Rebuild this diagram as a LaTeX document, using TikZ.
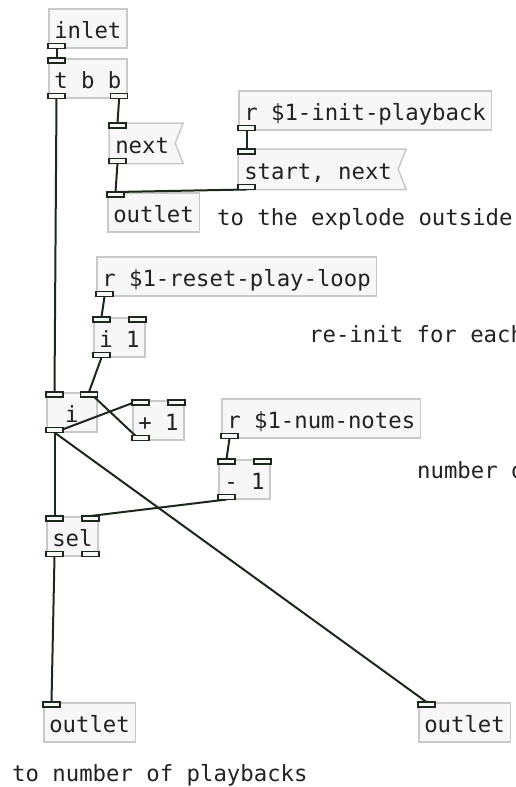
\documentclass[tikz,border=0pt]{standalone}
\usepackage{fontspec}
\setmonofont{DejaVu Sans Mono}
\usetikzlibrary{backgrounds}
\definecolor{pdfill}{RGB}{246,247,246}
\definecolor{pdborder}{RGB}{200,202,200}
\definecolor{pdline}{RGB}{28,40,28}
\definecolor{pdtext}{RGB}{34,34,34}
\tikzset{
  pdbox/.style={draw=pdborder, fill=pdfill, line width=1.5pt, anchor=north west,
    inner xsep=5.5pt, inner ysep=0pt, text height=29.5pt, text depth=9.5pt,
    minimum width=50pt, font=\ttfamily\fontsize{22.3}{26}\selectfont, text=pdtext},
  pdmsg/.style={pdbox, draw=none, fill=none},
  msgshape/.style={draw=pdborder, fill=pdfill, line width=1.5pt},
  nub/.style={draw=pdline, fill=pdfill, line width=1.5pt},
  conn/.style={draw=pdline, line width=2pt},
  pdcomment/.style={anchor=base west, inner sep=0pt,
    font=\ttfamily\fontsize{22.3}{26}\selectfont, text=pdtext},
}
\newcommand\nubOL[1]{\draw[nub, shift={(#1.south west)}] (0,0) rectangle (17,-5);}
\newcommand\nubOR[1]{\draw[nub, shift={(#1.south east)}] (0,0) rectangle (-17,-5);}
\newcommand\nubIL[1]{\draw[nub, shift={(#1.north west)}] (0,0) rectangle (17,5);}
\newcommand\nubIR[1]{\draw[nub, shift={(#1.north east)}] (0,0) rectangle (-17,5);}
\newcommand\msgflag[1]{\begin{pgfonlayer}{background}\draw[msgshape] (#1.north west) -- ([xshift=8pt]#1.north east) -- (#1.east) -- ([xshift=8pt]#1.south east) -- (#1.south west) -- cycle;\end{pgfonlayer}}
\begin{document}
\begin{tikzpicture}[x=1pt, y=-1pt]
\useasboundingbox (0,0) rectangle (516,787);
\clip (0,0) rectangle (516,787);

% boxes
\node[pdbox] (inlet) at (48,8) {inlet};
\node[pdbox] (tbb) at (48,58) {t b b};
\node[pdmsg] (next) at (109,123) {next};
\msgflag{next}
\node[pdbox] (out1) at (107,192) {outlet};
\node[pdbox] (rinit) at (238,90) {r \$1-init-playback};
\node[pdmsg] (start) at (238,149) {start, next};
\msgflag{start}
\node[pdcomment] (c1) at (217,225) {to the explode outside};
\node[pdbox] (rreset) at (96,256) {r \$1-reset-play-loop};
\node[pdbox] (i1) at (93,317) {i 1};
\node[pdcomment] (c2) at (309,342) {re-init for each};
\node[pdbox] (ii) at (46,392) {i};
\node[pdbox] (plus) at (132,400) {+ 1};
\node[pdbox] (rnum) at (221,398) {r \$1-num-notes};
\node[pdbox] (minus) at (218,459) {- 1};
\node[pdcomment] (c3) at (417,478) {number of};
\node[pdbox] (sel) at (46,516) {sel};
\node[pdbox] (outL) at (43,702) {outlet};
\node[pdbox] (outR) at (418,702) {outlet};
\node[pdcomment] (c4) at (12,781) {to number of playbacks};

% connections
\draw[conn] ([xshift=8.5pt]inlet.south west) -- ([xshift=8.5pt]tbb.north west);
\draw[conn] ([xshift=8.5pt]tbb.south west) -- ([xshift=8.5pt]ii.north west);
\draw[conn] ([xshift=-8.5pt]tbb.south east) -- ([xshift=8.5pt]next.north west);
\draw[conn] ([xshift=8.5pt]next.south west) -- ([xshift=8.5pt]out1.north west);
\draw[conn] ([xshift=8.5pt]rinit.south west) -- ([xshift=8.5pt]start.north west);
\draw[conn] ([xshift=8.5pt]start.south west) -- ([xshift=8.5pt]out1.north west);
\draw[conn] ([xshift=8.5pt]rreset.south west) -- ([xshift=8.5pt]i1.north west);
\draw[conn] ([xshift=8.5pt]i1.south west) -- ([xshift=-8.5pt]ii.north east);
\draw[conn] ([xshift=8.5pt]ii.south west) -- ([xshift=8.5pt]plus.north west);
\draw[conn] ([xshift=8.5pt]plus.south west) -- ([xshift=-8.5pt]ii.north east);
\draw[conn] ([xshift=8.5pt]ii.south west) -- ([xshift=8.5pt]sel.north west);
\draw[conn] ([xshift=8.5pt]ii.south west) -- ([xshift=8.5pt]outR.north west);
\draw[conn] ([xshift=8.5pt]rnum.south west) -- ([xshift=8.5pt]minus.north west);
\draw[conn] ([xshift=8.5pt]minus.south west) -- ([xshift=-8.5pt]sel.north east);
\draw[conn] ([xshift=8.5pt]sel.south west) -- ([xshift=8.5pt]outL.north west);

% inlets / outlets
\nubOL{inlet}
\nubIL{tbb} \nubOL{tbb} \nubOR{tbb}
\nubIL{next} \nubOL{next}
\nubIL{out1}
\nubOL{rinit}
\nubIL{start} \nubOL{start}
\nubOL{rreset}
\nubIL{i1} \nubIR{i1} \nubOL{i1}
\nubIL{ii} \nubIR{ii} \nubOL{ii}
\nubIL{plus} \nubIR{plus} \nubOL{plus}
\nubOL{rnum}
\nubIL{minus} \nubIR{minus} \nubOL{minus}
\nubIL{sel} \nubIR{sel} \nubOL{sel} \nubOR{sel}
\nubIL{outL}
\nubIL{outR}
\end{tikzpicture}
\end{document}
